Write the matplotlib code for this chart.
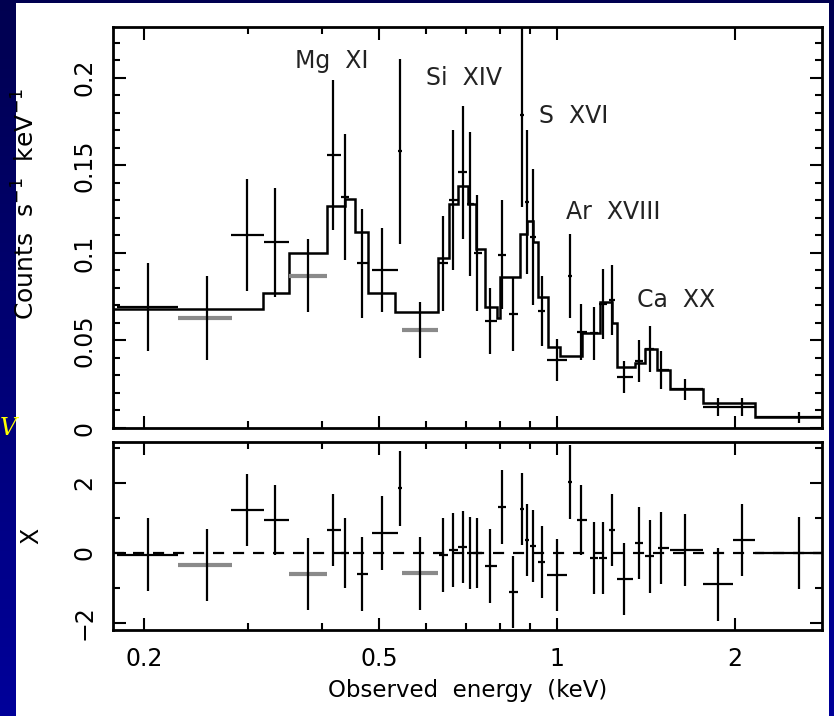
import matplotlib
matplotlib.use("Agg")
import matplotlib.pyplot as plt
import numpy as np
from matplotlib.colors import LinearSegmentedColormap

# spectrum points: energy, bin edges, counts/s/keV, error
energy = [0.203, 0.255, 0.299, 0.333, 0.379, 0.418, 0.437, 0.468, 0.506, 0.541,
          0.586, 0.641, 0.667, 0.693, 0.713, 0.733, 0.770, 0.807, 0.843, 0.873,
          0.889, 0.911, 0.943, 1.000, 1.052, 1.100, 1.156, 1.197, 1.240, 1.300,
          1.377, 1.436, 1.500, 1.650, 1.870, 2.060, 2.570]
e_lo = [0.180, 0.228, 0.280, 0.319, 0.351, 0.408, 0.430, 0.458, 0.486, 0.538,
        0.547, 0.630, 0.655, 0.680, 0.705, 0.722, 0.755, 0.795, 0.830, 0.866,
        0.882, 0.900, 0.930, 0.962, 1.045, 1.080, 1.135, 1.180, 1.225, 1.263,
        1.355, 1.410, 1.480, 1.553, 1.766, 1.985, 2.160]
e_hi = [0.228, 0.282, 0.319, 0.351, 0.408, 0.430, 0.445, 0.478, 0.538, 0.546,
        0.629, 0.654, 0.680, 0.705, 0.722, 0.745, 0.790, 0.820, 0.860, 0.880,
        0.895, 0.920, 0.955, 1.040, 1.060, 1.125, 1.175, 1.215, 1.255, 1.345,
        1.400, 1.460, 1.550, 1.766, 1.985, 2.160, 2.810]
counts = [0.069, 0.063, 0.110, 0.106, 0.087, 0.156, 0.132, 0.094, 0.090, 0.158,
          0.056, 0.094, 0.130, 0.146, 0.128, 0.100, 0.061, 0.099, 0.065, 0.179,
          0.129, 0.109, 0.067, 0.039, 0.087, 0.055, 0.054, 0.071, 0.073, 0.029,
          0.038, 0.045, 0.033, 0.022, 0.012, 0.012, 0.006]
counts_err = [0.025, 0.024, 0.032, 0.031, 0.021, 0.043, 0.036, 0.031, 0.024, 0.053,
              0.016, 0.027, 0.040, 0.038, 0.041, 0.033, 0.019, 0.031, 0.021, 0.053,
              0.041, 0.039, 0.020, 0.012, 0.024, 0.016, 0.015, 0.020, 0.020, 0.009,
              0.012, 0.013, 0.011, 0.006, 0.005, 0.005, 0.003]
resid = [-0.05, -0.34, 1.23, 0.94, -0.60, 0.66, 0.00, -0.60, 0.57, 1.85,
         -0.58, -0.06, 0.09, 0.17, 0.00, 0.00, -0.37, 1.31, -1.12, 1.26,
         0.37, 0.20, -0.25, -0.62, 2.03, 0.94, -0.14, -0.14, 0.66, -0.74,
         0.28, -0.10, 0.13, 0.09, -0.90, 0.37, 0.00]
resid_err = [1.04, 1.03, 1.03, 1.00, 1.03, 1.02, 1.00, 1.05, 1.05, 1.07,
             1.05, 1.05, 1.05, 1.03, 1.03, 1.00, 1.05, 1.05, 1.03, 1.03,
             1.03, 1.03, 1.03, 1.03, 1.05, 1.00, 1.03, 1.03, 1.03, 1.03,
             1.03, 1.05, 1.03, 1.03, 1.03, 1.03, 1.03]
grey_pts = [1, 4, 10]   # bins drawn with grey energy bars

# model step curve
model_edges = [0.177, 0.318, 0.351, 0.408, 0.438, 0.455, 0.479, 0.532, 0.629, 0.657,
               0.680, 0.707, 0.730, 0.755, 0.792, 0.801, 0.866, 0.889, 0.911, 0.929,
               0.965, 1.012, 1.102, 1.182, 1.239, 1.263, 1.355, 1.409, 1.476, 1.553,
               1.766, 2.163, 2.810]
model_vals = [0.068, 0.077, 0.100, 0.127, 0.131, 0.112, 0.077, 0.066, 0.097, 0.128,
              0.138, 0.128, 0.102, 0.069, 0.063, 0.086, 0.111, 0.118, 0.106, 0.075,
              0.046, 0.041, 0.054, 0.072, 0.060, 0.035, 0.037, 0.045, 0.033, 0.022,
              0.014, 0.006]

lines = ["Mg  XI", "Si  XIV", "S  XVI", "Ar  XVIII", "Ca  XX"]
line_x = [0.416, 0.696, 1.069, 1.244, 1.589]
line_y = [0.2097, 0.200, 0.178, 0.1234, 0.0731]

plt.rcParams['font.family'] = ['DejaVu Sans']

fig = plt.figure(figsize=(8.34, 7.16), dpi=100)

# blue slide background with white panel
bg = fig.add_axes([0, 0, 1, 1], zorder=-10)
grad = np.linspace(0, 1, 256).reshape(-1, 1)
cmap = LinearSegmentedColormap.from_list('bg', ['#000050', '#00009a'])
bg.imshow(grad, aspect='auto', cmap=cmap, extent=[0, 1, 0, 1], origin='upper')
bg.add_patch(plt.Rectangle((16 / 834, 0), (829 - 16) / 834, 1 - 3 / 716,
                           facecolor='white', edgecolor='none'))
bg.set_xlim(0, 1)
bg.set_ylim(0, 1)
bg.axis('off')

fig.text(0.0, 0.402, 'V', color='#ffff00', fontsize=17, style='italic',
         family='DejaVu Serif', va='center', ha='left')

l, r = 113 / 834, 822 / 834
ax1 = fig.add_axes([l, 1 - 428 / 716, r - l, (428 - 27) / 716])
ax2 = fig.add_axes([l, 1 - 630 / 716, r - l, (630 - 442) / 716])

energy = np.array(energy)
xlo = energy - np.array(e_lo)
xhi = np.array(e_hi) - energy

ax1.stairs(model_vals, model_edges, color='black', lw=1.8, zorder=3)
for i in range(len(energy)):
    hc = '#8a8a8a' if i in grey_pts else 'black'
    hw = 3.0 if i in grey_pts else 1.6
    for ax, y, ye in ((ax1, counts[i], counts_err[i]), (ax2, resid[i], resid_err[i])):
        ax.errorbar(energy[i], y, xerr=[[xlo[i]], [xhi[i]]], fmt='none',
                    ecolor=hc, elinewidth=hw, capsize=0, zorder=4)
        ax.errorbar(energy[i], y, yerr=ye, fmt='none', ecolor='black',
                    elinewidth=1.6, capsize=0, zorder=5)
ax2.axhline(0, color='black', lw=1.6, ls=(0, (5, 4)), zorder=2)

for t, x, y in zip(lines, line_x, line_y):
    ax1.text(x, y, t, fontsize=17, ha='center', va='center', color='#222222')

for ax in (ax1, ax2):
    ax.set_xscale('log')
    ax.set_xlim(0.177, 2.81)
    ax.set_xticks([0.2, 0.5, 1, 2])
    ax.set_xticks([0.3, 0.4, 0.6, 0.7, 0.8, 0.9], minor=True)
    ax.tick_params(which='both', direction='in', top=True, right=True, width=1.5)
    ax.tick_params(which='major', length=9, labelsize=17, pad=12)
    ax.tick_params(which='minor', length=5)
    for s in ax.spines.values():
        s.set_linewidth(2)

ax1.set_ylim(0, 0.229)
ax1.set_yticks([0, 0.05, 0.1, 0.15, 0.2])
ax1.set_yticklabels(['0', '0.05', '0.1', '0.15', '0.2'], rotation=90, va='center')
ax1.set_yticks(np.arange(0, 0.23, 0.01), minor=True)
ax1.set_xticklabels([])
ax1.set_xticklabels([], minor=True)
ax1.set_ylabel('Counts  s$^{-1}$  keV$^{-1}$', fontsize=18)
ax1.yaxis.set_label_coords(-0.104, 0.56)

ax2.set_ylim(-2.2, 3.17)
ax2.set_yticks([-2, 0, 2])
ax2.set_yticklabels(['\u22122', '0', '2'], rotation=90, va='center')
ax2.set_yticks([-1, 1, 3], minor=True)
ax2.set_xticklabels(['0.2', '0.5', '1', '2'])
ax2.set_xticklabels([], minor=True)
ax2.set_ylabel('X', fontsize=17)
ax2.yaxis.set_label_coords(-0.099, 0.5)
ax2.set_xlabel('Observed  energy  (keV)', fontsize=16.5, labelpad=6)

fig.savefig('out.png', dpi=100)
